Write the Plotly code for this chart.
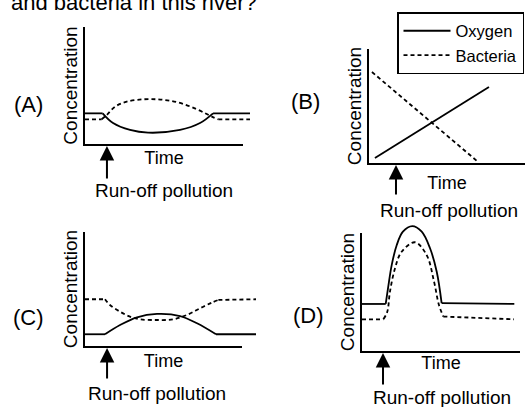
import plotly.graph_objects as go

W, H = 525, 407
FONT = "Liberation Sans, Arial, Helvetica, sans-serif"

# ---------------- data (time and concentration in arbitrary units 0-10) ----------------
panel_labels = ["(A)", "(B)", "(C)", "(D)"]
series_names = ["Oxygen", "Bacteria"]
x_title = "Time"
y_title = "Concentration"
event_label = "Run-off pollution"
question_text = "and bacteria in this river?"

a_time_oxygen = [0, 1.07, 1.70, 2.73, 3.82, 5.76, 6.97, 7.76, 10]
a_oxygen = [2.62, 2.62, 1.79, 1.20, 0.97, 1.20, 1.79, 2.62, 2.62]
a_time_bacteria = [0, 1.01, 1.32, 1.82, 2.53, 3.53, 4.35, 5.15, 5.96, 6.77, 7.38, 7.78, 8.08, 10]
a_bacteria = [2.11, 2.11, 2.48, 3.19, 3.62, 3.82, 3.82, 3.70, 3.42, 2.97, 2.56, 2.28, 2.11, 2.11]

b_time_oxygen = [0.38, 4.04, 7.69]
b_oxygen = [0.44, 3.53, 6.67]
b_time_bacteria = [0.19, 4.04, 6.92]
b_bacteria = [7.98, 3.53, 0.18]

c_time_oxygen = [0, 1.17, 2.05, 3.04, 4.21, 5.56, 6.55, 7.66, 10]
c_oxygen = [1.03, 1.03, 1.84, 2.52, 2.81, 2.63, 1.99, 1.03, 1.03]
c_time_bacteria = [0, 1.17, 1.46, 2.05, 2.63, 3.22, 4.19, 5.16, 5.95, 6.73, 7.41, 7.80, 10]
c_bacteria = [4.10, 4.10, 3.60, 3.01, 2.57, 2.34, 2.28, 2.34, 2.72, 3.31, 3.80, 4.04, 4.10]

d_time_oxygen = [0, 1.50, 1.65, 1.88, 2.20, 2.59, 3.18, 3.78, 4.30, 4.73, 5.04, 9.64]
d_oxygen = [3.59, 3.59, 4.81, 6.56, 8.09, 9.11, 9.54, 9.11, 7.86, 6.05, 3.65, 3.59]
d_time_bacteria = [0, 1.35, 1.60, 1.77, 2.09, 2.51, 3.35, 4.09, 4.56, 4.87, 5.15, 9.62]
d_bacteria = [2.42, 2.42, 3.00, 4.53, 6.31, 7.58, 8.30, 7.33, 5.29, 3.51, 2.63, 2.42]

pollution_time = [1.33, 1.73, 1.29, 1.33]   # when the run-off arrives (arrow)

# ---------------- layout geometry (pixels) ----------------
frame_box = [(85, 243, 27, 144), (369, 525, 49, 163), (85, 242, 232, 346), (362, 520, 233, 351)]
curve_box = [(85, 250, 27, 144), (369, 525, 49, 163), (85, 256, 232, 346), (362, 520, 220, 351)]
x_title_standoff = [6, 12, 7, 4]
arrow_len = [34, 31, 32, 33]
label_pos = [(28, 105), (305, 102), (28, 317), (308, 315)]
event_pos = [(164, 190), (449, 210), (157, 393), (442, 397)]

series = [
    (a_time_oxygen, a_oxygen, a_time_bacteria, a_bacteria),
    (b_time_oxygen, b_oxygen, b_time_bacteria, b_bacteria),
    (c_time_oxygen, c_oxygen, c_time_bacteria, c_bacteria),
    (d_time_oxygen, d_oxygen, d_time_bacteria, d_bacteria),
]


def fx(p):
    return p / W


def fy(p):
    return 1 - p / H


def split_flat(t, v):
    """flat start / smooth middle / flat end, separated by gaps so the spline has no overshoot"""
    if len(t) <= 3:
        return list(t), list(v)
    xs = list(t[0:2]) + [None] + list(t[1:-1]) + [None] + list(t[-2:])
    ys = list(v[0:2]) + [None] + list(v[1:-1]) + [None] + list(v[-2:])
    return xs, ys


LW = 1.8
fig = go.Figure()
layout = {}
annotations = []

for i in range(4):
    fi = i + 1
    ci = i + 5
    fxn = "x" if fi == 1 else f"x{fi}"
    fyn = "y" if fi == 1 else f"y{fi}"
    cxn, cyn = f"x{ci}", f"y{ci}"
    fl, fr, ft, fb = frame_box[i]
    cl, cr, ct, cb = curve_box[i]

    layout["xaxis" if fi == 1 else f"xaxis{fi}"] = dict(
        domain=[fx(fl), min(1, fx(fr))], anchor=fyn, range=[0, 10],
        showline=True, linecolor="black", linewidth=LW, showgrid=False, zeroline=False,
        showticklabels=False, ticks="", fixedrange=True,
        title=dict(text=x_title, font=dict(size=18, color="black", family=FONT),
                   standoff=x_title_standoff[i]),
    )
    layout["yaxis" if fi == 1 else f"yaxis{fi}"] = dict(
        domain=[fy(fb), fy(ft)], anchor=fxn, range=[0, 10],
        showline=True, linecolor="black", linewidth=LW, showgrid=False, zeroline=False,
        showticklabels=False, ticks="", fixedrange=True,
        title=dict(text=y_title, font=dict(size=19, color="black", family=FONT), standoff=0),
    )
    fig.add_trace(go.Scatter(x=[], y=[], xaxis=fxn, yaxis=fyn, showlegend=False, hoverinfo="skip"))

    layout[f"xaxis{ci}"] = dict(domain=[fx(cl), min(1, fx(cr))], anchor=cyn, range=[0, 10],
                                visible=False, fixedrange=True)
    layout[f"yaxis{ci}"] = dict(domain=[fy(cb), fy(ct)], anchor=cxn, range=[0, 10],
                                visible=False, fixedrange=True)

    tox, ox, tbac, bac = series[i]
    shape = "linear" if i == 1 else "spline"
    xo, yo = split_flat(tox, ox)
    xb, yb = split_flat(tbac, bac)
    fig.add_trace(go.Scatter(
        x=xo, y=yo, xaxis=cxn, yaxis=cyn, mode="lines", name=series_names[0],
        line=dict(color="black", width=LW, shape=shape, smoothing=1),
        showlegend=(i == 1), hoverinfo="skip", connectgaps=False,
    ))
    fig.add_trace(go.Scatter(
        x=xb, y=yb, xaxis=cxn, yaxis=cyn, mode="lines", name=series_names[1],
        line=dict(color="black", width=LW, shape=shape, smoothing=1, dash="4px,3px"),
        showlegend=(i == 1), hoverinfo="skip", connectgaps=False,
    ))

    # run-off arrow (x in data time, tip just under the axis line)
    annotations.append(dict(
        x=pollution_time[i], y=fy(fb + 2), xref=cxn, yref="paper", text="", showarrow=True,
        ax=0, ay=arrow_len[i], axref="pixel", ayref="pixel",
        arrowhead=2, arrowsize=1.45, arrowwidth=2, arrowcolor="black", standoff=0,
    ))
    ex, ey = event_pos[i]
    annotations.append(dict(x=fx(ex), y=fy(ey), xref="paper", yref="paper", text=event_label,
                            showarrow=False, xanchor="center", yanchor="middle",
                            font=dict(size=19, color="black", family=FONT)))
    lx, ly = label_pos[i]
    annotations.append(dict(x=fx(lx), y=fy(ly), xref="paper", yref="paper", text=panel_labels[i],
                            showarrow=False, xanchor="center", yanchor="middle",
                            font=dict(size=22, color="black", family=FONT)))

annotations.append(dict(x=fx(9), y=fy(2), xref="paper", yref="paper", text=question_text,
                        showarrow=False, xanchor="left", yanchor="middle",
                        font=dict(size=22, color="black", family=FONT)))

fig.update_layout(
    width=W, height=H,
    margin=dict(l=0, r=0, t=0, b=0),
    paper_bgcolor="white", plot_bgcolor="rgba(0,0,0,0)",
    font=dict(family=FONT, color="black"),
    showlegend=True,
    legend=dict(x=fx(397), y=fy(12), xanchor="left", yanchor="top",
                bordercolor="black", borderwidth=1.5, bgcolor="white",
                font=dict(size=16.5, color="black", family=FONT), itemwidth=47),
    annotations=annotations,
    **layout,
)

fig.write_html("out.html", config={"displayModeBar": False},
               post_script="document.body.style.margin='0';")
